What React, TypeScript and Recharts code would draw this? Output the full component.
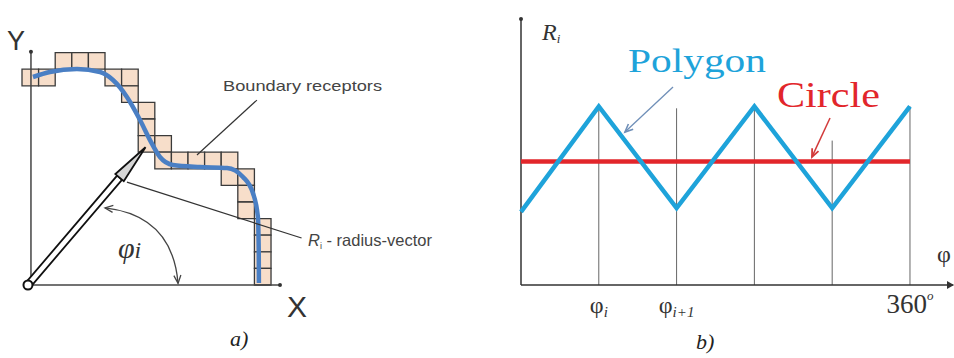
import React from "react";
import {
  ComposedChart,
  Line,
  XAxis,
  YAxis,
  ReferenceLine,
  ReferenceArea,
  ReferenceDot,
} from "recharts";

// ---- panel a: receptor field (units = receptor cells, origin at axes crossing)
const receptorCells: [number, number][] = [
  [2, 0], [3, 0], [4, 0],
  [0, 1], [1, 1], [5, 1], [6, 1],
  [6, 2],
  [7, 3],
  [7, 4],
  [7, 5], [8, 5],
  [8, 6], [9, 6], [10, 6], [11, 6], [12, 6],
  [12, 7], [13, 7],
  [13, 8],
  [13, 9],
  [14, 10], [14, 11], [14, 12], [14, 13],
];
const boundaryX = [0.12, 1.14, 2.77, 4.16, 4.94, 5.78, 6.57, 7.17, 7.77, 8.55, 10.18, 11.81, 12.77, 13.37, 13.67, 13.72, 13.73];
const boundaryY = [12.53, 12.83, 13.01, 12.83, 12.35, 11.33, 9.94, 8.73, 7.71, 7.23, 7.11, 7.05, 6.51, 5.54, 4.1, 2.0, 0.12];
const radiusTip = { x: 6.9, y: 8.3 };

// ---- panel b: R_i versus phi
const phiDeg = [0, 72, 144, 216, 288, 360];
const polygonR = [3.85, 9.4, 4.05, 9.4, 4.05, 9.4];
const circleR = 6.5;
const gridPhi = [72, 144, 216, 288, 360];
const gridTop = [9.4, 9.3, 9.4, 7.6, 9.4];
const tickPhi = [72, 144, 360];
const tickMain = ["φ", "φ", "360"];
const tickScript = ["i", "i+1", "o"];

const boundaryData = boundaryX.map((x, i) => ({ x, y: boundaryY[i] }));
const polygonData = phiDeg.map((x, i) => ({ x, y: polygonR[i] }));
const circleData = [
  { x: phiDeg[0], y: circleR },
  { x: phiDeg[phiDeg.length - 1], y: circleR },
];

const SANS = "'Liberation Sans', Arial, sans-serif";
const SERIF = "'Liberation Serif', 'Times New Roman', serif";
const BLUE = "#1EA3DA";
const RED = "#E2262B";

const hollowArrow = (p: any) => {
  const { x1, y1, x2, y2 } = p;
  const dx = x2 - x1;
  const dy = y2 - y1;
  const L = Math.hypot(dx, dy);
  const ux = dx / L, uy = dy / L, nx = -uy, ny = ux;
  const head = 40, hw = 5.5, sw = 3.2;
  const bx = x2 - ux * head, by = y2 - uy * head;
  const shaft = `M${x1 + nx * sw},${y1 + ny * sw} L${bx + nx * sw},${by + ny * sw} L${bx - nx * sw},${by - ny * sw} L${x1 - nx * sw},${y1 - ny * sw} Z`;
  const tri = `M${bx + nx * hw},${by + ny * hw} L${x2},${y2} L${bx - nx * hw},${by - ny * hw} Z`;
  return (
    <g>
      <path d={shaft} fill="#fff" stroke="#111" strokeWidth={1.8} />
      <path d={tri} fill="#d6d6d6" stroke="#111" strokeWidth={1.8} />
    </g>
  );
};

const vHead = (x: number, y: number, ux: number, uy: number, len: number, spread: number) => {
  const nx = -uy, ny = ux;
  return `M${x - ux * len + nx * spread},${y - uy * len + ny * spread} L${x},${y} L${x - ux * len - nx * spread},${y - uy * len - ny * spread}`;
};

const leader = (color: string, width: number, head: boolean) => (p: any) => {
  const { x1, y1, x2, y2 } = p;
  const L = Math.hypot(x2 - x1, y2 - y1);
  const ux = (x2 - x1) / L, uy = (y2 - y1) / L;
  return (
    <g>
      <line x1={x1} y1={y1} x2={x2} y2={y2} stroke={color} strokeWidth={width} />
      {head && <path d={vHead(x2, y2, ux, uy, 8, 3.5)} fill="none" stroke={color} strokeWidth={width + 0.3} />}
    </g>
  );
};

const angleArc = (p: any) => {
  const { x1, y1, x2, y2 } = p;
  const dx = x2 - x1, dy = y2 - y1;
  const L = Math.hypot(dx, dy);
  const mx = (x1 + x2) / 2, my = (y1 + y2) / 2;
  const cx = mx + (dy / L) * 43, cy = my - (dx / L) * 43;
  const s = Math.hypot(x1 - cx, y1 - cy);
  const e = Math.hypot(x2 - cx, y2 - cy);
  return (
    <g fill="none" stroke="#444" strokeWidth={1.3}>
      <path d={`M${x1},${y1} Q${cx},${cy} ${x2},${y2}`} />
      <path d={vHead(x1, y1, (x1 - cx) / s, (y1 - cy) / s, 8, 3.5)} />
      <path d={vHead(x2, y2, (x2 - cx) / e, (y2 - cy) / e, 8, 3.5)} />
    </g>
  );
};

const PhiTick = (props: any) => {
  const { x, y, payload } = props;
  const i = tickPhi.indexOf(payload.value);
  if (i < 0) return null;
  const isDeg = tickScript[i] === "o";
  return (
    <text x={x} y={y + 20} textAnchor="middle" fontFamily={SERIF} fontSize={isDeg ? 27 : 24} fill="#333">
      {tickMain[i]}
      <tspan fontSize={isDeg ? 13 : 15} fontStyle="italic" dy={isDeg ? -13 : 4}>
        {tickScript[i]}
      </tspan>
    </text>
  );
};

function PanelA() {
  return (
    <ComposedChart width={500} height={358} margin={{ top: 44.3, right: 20.8, bottom: 73, left: 22 }}>
      <XAxis type="number" dataKey="x" domain={[-0.54, 27]} hide />
      <YAxis type="number" domain={[0, 14.5]} hide />
      {receptorCells.map(([c, r], i) => (
        <ReferenceArea
          key={`cell-${i}`}
          x1={c - 0.54}
          x2={c + 0.46}
          y1={13 - r}
          y2={14 - r}
          fill="#F7DECA"
          fillOpacity={1}
          stroke="#3a3a3a"
          strokeWidth={1.3}
        />
      ))}
      <ReferenceLine segment={[{ x: 0, y: 0 }, { x: 0, y: 14 }]} stroke="#444" strokeWidth={1.5} />
      <ReferenceLine segment={[{ x: 0, y: 0 }, { x: 15, y: 0 }]} stroke="#444" strokeWidth={1.5} />
      <ReferenceDot x={0} y={14.05} r={2} fill="#333" stroke="none" />
      <ReferenceDot x={15} y={0} r={2} fill="#333" stroke="none" />
      <Line
        data={boundaryData}
        dataKey="y"
        type="monotone"
        stroke="#4A7FC4"
        strokeWidth={4.5}
        dot={false}
        isAnimationActive={false}
      />
      <ReferenceLine segment={[{ x: 10.0, y: 7.83 }, { x: 13.61, y: 11.14 }]} shape={leader("#333", 1.2, false)} />
      <ReferenceLine segment={[{ x: 5.78, y: 6.2 }, { x: 16.3, y: 2.83 }]} shape={leader("#333", 1.2, false)} />
      <ReferenceLine segment={[{ x: 4.46, y: 4.64 }, { x: 8.86, y: 0.1 }]} shape={angleArc} />
      <ReferenceLine segment={[{ x: -0.18, y: 0 }, radiusTip]} shape={hollowArrow} />
      <ReferenceDot x={-0.18} y={0} r={4.5} fill="#fff" stroke="#111" strokeWidth={2} />
      <text x={7} y={50} fontFamily={SANS} fontSize={27} fill="#333">Y</text>
      <text x={287} y={317} fontFamily={SANS} fontSize={30} fill="#333">X</text>
      <text x={223} y={91} fontFamily={SANS} fontSize={15} fill="#444" textLength={159} lengthAdjust="spacingAndGlyphs">
        Boundary receptors
      </text>
      <text x={308} y={246} fontFamily={SANS} fontSize={16.5} fill="#444">
        <tspan fontStyle="italic">R</tspan>
        <tspan fontSize={9} dy={3}>i</tspan>
        <tspan dy={-3}> - radius-vector</tspan>
      </text>
      <text x={118} y={258} fontFamily={SERIF} fontStyle="italic" fontSize={30} fill="#333">
        φ<tspan fontSize={24}>i</tspan>
      </text>
      <text x={230} y={346} fontFamily={SERIF} fontStyle="italic" fontSize={22} fill="#222">a)</text>
    </ComposedChart>
  );
}

function PanelB() {
  return (
    <ComposedChart width={454} height={358} margin={{ top: 19, right: 0.8, bottom: 0, left: 21 }}>
      <XAxis
        type="number"
        dataKey="x"
        domain={[0, 400]}
        ticks={tickPhi}
        tick={PhiTick}
        tickLine={false}
        axisLine={{ stroke: "#333", strokeWidth: 1.5 }}
        height={73}
        interval={0}
      />
      <YAxis type="number" domain={[0, 14]} hide />
      <ReferenceLine segment={[{ x: 0, y: 0 }, { x: 0, y: 14 }]} stroke="#333" strokeWidth={1.5} />
      {gridPhi.map((x, i) => (
        <ReferenceLine key={`g-${i}`} segment={[{ x, y: 0 }, { x, y: gridTop[i] }]} stroke="#666" strokeWidth={1} />
      ))}
      <ReferenceDot x={0} y={14} r={2} fill="#333" stroke="none" />
      <Line data={circleData} dataKey="y" type="linear" stroke={RED} strokeWidth={4.5} dot={false} isAnimationActive={false} />
      <Line data={polygonData} dataKey="y" type="linear" stroke={BLUE} strokeWidth={4.5} dot={false} isAnimationActive={false} />
      <ReferenceLine segment={[{ x: 140.7, y: 10.42 }, { x: 96.2, y: 8.05 }]} shape={leader("#6F8FB8", 1.3, true)} />
      <ReferenceLine segment={[{ x: 286, y: 8.79 }, { x: 269.3, y: 6.74 }]} shape={leader("#D23A3A", 1.5, true)} />
      <path d="M447,281 L454,285 L447,289 Z" fill="#333" />
      <text x={42} y={40} fontFamily={SERIF} fontStyle="italic" fontSize={24} fill="#333">
        R<tspan fontSize={13} dy={3}>i</tspan>
      </text>
      <text x={128} y={72} fontFamily={SERIF} fontSize={34} fill={BLUE} textLength={138} lengthAdjust="spacingAndGlyphs">
        Polygon
      </text>
      <text x={277} y={107} fontFamily={SERIF} fontSize={35} fill={RED} textLength={103} lengthAdjust="spacingAndGlyphs">
        Circle
      </text>
      <text x={437} y={262} fontFamily={SERIF} fontSize={24} fill="#333">φ</text>
      <text x={196} y={349} fontFamily={SERIF} fontStyle="italic" fontSize={22} fill="#222">b)</text>
    </ComposedChart>
  );
}

export default function App() {
  return (
    <div style={{ position: "absolute", left: 0, top: 0, width: 954, height: 358, background: "#fff", overflow: "hidden" }}>
      <div style={{ position: "absolute", left: 0, top: 0 }}>
        <PanelA />
      </div>
      <div style={{ position: "absolute", left: 500, top: 0 }}>
        <PanelB />
      </div>
    </div>
  );
}
